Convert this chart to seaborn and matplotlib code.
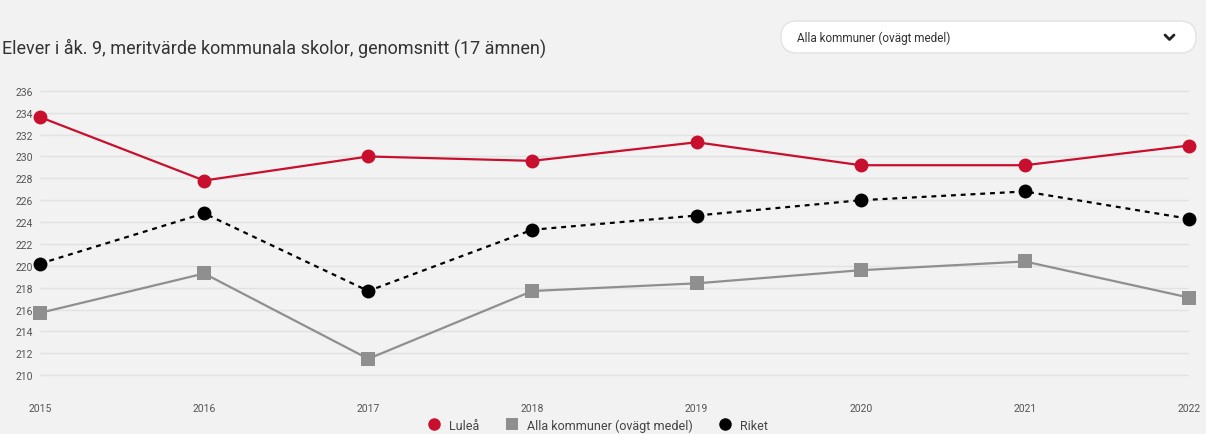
import matplotlib
matplotlib.use('Agg')
import matplotlib.pyplot as plt
from matplotlib.lines import Line2D
from matplotlib.patches import FancyBboxPatch
import seaborn as sns
import pandas as pd

# data
years = [2015, 2016, 2017, 2018, 2019, 2020, 2021, 2022]
lulea = [233.6, 227.8, 230.0, 229.6, 231.3, 229.2, 229.2, 231.0]
alla_kommuner = [215.7, 219.3, 211.5, 217.7, 218.4, 219.6, 220.4, 217.1]
riket = [220.2, 224.8, 217.7, 223.3, 224.6, 226.0, 226.8, 224.3]
series_names = ['Luleå', 'Alla kommuner (ovägt medel)', 'Riket']
y_ticks = list(range(210, 237, 2))

df = pd.DataFrame({
    'År': years * 3,
    'Meritvärde': lulea + alla_kommuner + riket,
    'Serie': [s for s in series_names for _ in years],
})

sns.set_style('white')
plt.rcParams['font.family'] = ['Roboto', 'DejaVu Sans']

bg = '#f2f2f2'
colors = {'Luleå': '#c8102e', 'Alla kommuner (ovägt medel)': '#8f8f8f', 'Riket': '#000000'}
markers = {'Luleå': 'o', 'Alla kommuner (ovägt medel)': 's', 'Riket': 'o'}
dashes = {'Luleå': '', 'Alla kommuner (ovägt medel)': '', 'Riket': (2.2, 2.2)}

fig = plt.figure(figsize=(12.06, 4.35), dpi=100, facecolor=bg)
ax = fig.add_axes([40 / 1206, 0.110, (1189 - 40) / 1206, 0.704])
ax.set_facecolor(bg)

sns.lineplot(data=df, x='År', y='Meritvärde', hue='Serie', style='Serie',
             palette=colors, markers=markers, dashes=dashes, markersize=10,
             markeredgewidth=0, linewidth=1.6, ax=ax, legend=False)
for line in ax.lines:
    line.set_clip_on(False)
    line.set_zorder(3)

ax.set_xlim(2015, 2022)
ax.set_ylim(209, 237)
ax.set_yticks(y_ticks)
ax.set_xticks(years)
ax.set_xticklabels([str(y) for y in years])
ax.grid(axis='y', color='#e2e2e2', linewidth=1)
ax.set_axisbelow(True)
for side in ax.spines.values():
    side.set_visible(False)
ax.tick_params(axis='both', length=0, labelsize=7.5, labelcolor='#555555')
ax.tick_params(axis='x', pad=12)
ax.tick_params(axis='y', pad=5)
ax.set_xlabel('')
ax.set_ylabel('')

# title
fig.text(2 / 1206, 1 - 48 / 435, 'Elever i åk. 9, meritvärde kommunala skolor, genomsnitt (17 ämnen)',
         fontsize=13, color='#333333', va='center', ha='left')

# dropdown box, drawn in a pixel-scaled helper axes
dax = fig.add_axes([778 / 1206, 1 - 58 / 435, 421 / 1206, 40 / 435])
dax.set_xlim(0, 421)
dax.set_ylim(0, 40)
dax.axis('off')
dax.add_patch(FancyBboxPatch((3, 4), 415, 32, boxstyle='round,pad=0,rounding_size=16',
                             facecolor='white', edgecolor='#e2e2e2', linewidth=1))
dax.text(19, 20, 'Alla kommuner (ovägt medel)', fontsize=8.5, color='#333333',
         va='center', ha='left')
dax.add_line(Line2D([387, 391.5, 396], [22, 17.5, 22], color='#222222', linewidth=2,
                    solid_capstyle='round', solid_joinstyle='round'))

# legend along the bottom edge
handles = [Line2D([], [], linestyle='', marker=markers[s], color=colors[s],
                  markersize=9, markeredgewidth=0) for s in series_names]
fig.legend(handles, series_names, loc='center', bbox_to_anchor=(0.493, 1 - 426 / 435), ncol=3,
           frameon=False, fontsize=9, handletextpad=0.2, columnspacing=1.6,
           labelcolor='#444444')

fig.savefig('out.png', dpi=100, facecolor=bg)
